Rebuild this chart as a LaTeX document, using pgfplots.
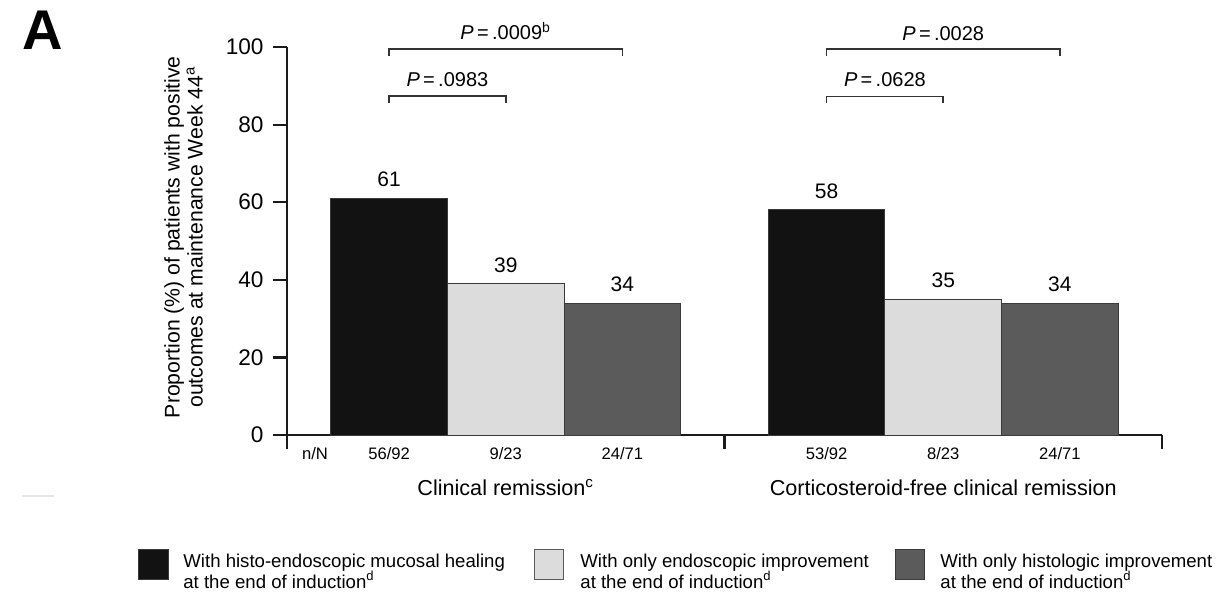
\documentclass[border=0pt]{standalone}
\usepackage{fontspec}
\setmainfont{Liberation Sans}
\usepackage{pgfplots}
\usepackage{pgfplotstable}
\pgfplotsset{compat=1.18}

\definecolor{barblack}{HTML}{121212}
\definecolor{barlight}{HTML}{DCDCDC}
\definecolor{bardark}{HTML}{5B5B5B}
\definecolor{baredge}{HTML}{3A3A3A}
\definecolor{axisline}{HTML}{1A1A1A}

% Proportion (%) of patients with positive outcomes at maintenance Week 44
\pgfplotstableread{
x      y
0.875  61
4.625  58
}\histoendo
\pgfplotstableread{
x      y
1.875  39
5.625  35
}\endoonly
\pgfplotstableread{
x      y
2.875  34
6.625  34
}\histoonly
% n/N under each bar
\pgfplotstableread{
x      nN
0.24   n/N
0.875  56/92
1.875  9/23
2.875  24/71
4.625  53/92
5.625  8/23
6.625  24/71
}\nNtable

\newcommand{\fs}[1]{\fontsize{#1}{#1}\selectfont}

\begin{document}
\begin{tikzpicture}
\path[use as bounding box] (0,0) rectangle (614.5pt,-296.5pt);

\begin{axis}[
  at={(143.5pt,-217.5pt)}, anchor=south west,
  scale only axis, width=437.5pt, height=194pt,
  xmin=0, xmax=7.5, ymin=0, ymax=100,
  axis lines=left,
  axis line style={-, line width=1.1pt, color=axisline},
  xtick={0,3.75,7.5}, xticklabels={,,},
  ytick={0,20,...,100},
  tick align=outside, major tick length=7.2pt,
  tick style={line width=1.1pt, color=axisline},
  /pgf/number format/assume math mode=true,
  yticklabel style={font=\fs{11.3}, xshift=-1pt},
  clip=false,
  ylabel={Proportion (\%) of patients with positive\\outcomes at maintenance Week 44\textsuperscript{a}},
  ylabel style={at={(axis description cs:-0.1183,0.51)}, anchor=center,
    align=center, font=\fontsize{10.6}{11.5}\selectfont},
  every node near coord/.append style={font=\fs{10.5}, yshift=2pt},
]

\addplot[ybar, bar width=1, bar shift=0, fill=barblack, draw=baredge, line width=0.5pt,
  nodes near coords] table[x=x, y=y] {\histoendo};
\addplot[ybar, bar width=1, bar shift=0, fill=barlight, draw=baredge, line width=0.5pt,
  nodes near coords] table[x=x, y=y] {\endoonly};
\addplot[ybar, bar width=1, bar shift=0, fill=bardark, draw=baredge, line width=0.5pt,
  nodes near coords] table[x=x, y=y] {\histoonly};

% n/N row
\addplot[draw=none, nodes near coords, point meta=explicit symbolic,
  every node near coord/.append style={anchor=center, yshift=-11.5pt, font=\fs{8.3}}]
  table[x=x, y expr=0, meta=nN] {\nNtable};

% group titles
\node[anchor=base, font=\fs{10.8}, yshift=-30pt] at (axis cs:1.875,0) {Clinical remission\textsuperscript{c}};
\node[anchor=base, font=\fs{10.8}, yshift=-30pt] at (axis cs:5.625,0) {Corticosteroid-free clinical remission};

% significance brackets
\begin{scope}[line width=0.8pt, color=black!80]
\draw (axis cs:0.875,97.7) |- (axis cs:2.875,99.5) -- (axis cs:2.875,97.7);
\draw (axis cs:0.875,85.6) |- (axis cs:1.875,87.4) -- (axis cs:1.875,85.6);
\draw (axis cs:4.625,97.7) |- (axis cs:6.625,99.5) -- (axis cs:6.625,97.7);
\draw (axis cs:4.625,85.6) |- (axis cs:5.625,87.2) -- (axis cs:5.625,85.6);
\end{scope}
\node[anchor=base, font=\fs{10}] at (axis cs:1.875,101.9) {\textit{P}\,=\,.0009\textsuperscript{b}};
\node[anchor=base, font=\fs{10}] at (axis cs:1.375,89.9) {\textit{P}\,=\,.0983};
\node[anchor=base, font=\fs{10}] at (axis cs:5.625,101.8) {\textit{P}\,=\,.0028};
\node[anchor=base, font=\fs{10}] at (axis cs:5.125,89.7) {\textit{P}\,=\,.0628};
\end{axis}

% panel letter
\node[anchor=base west, inner sep=0pt, font=\bfseries\fs{28}] at (11pt,-25pt) {A};
\draw[black!10, line width=0.8pt] (11pt,-248pt) -- (27pt,-248pt);

% legend
\filldraw[fill=barblack, draw=baredge, line width=0.5pt] (69pt,-274.5pt) rectangle (84pt,-289.5pt);
\filldraw[fill=barlight, draw=black!65, line width=0.5pt] (267pt,-274.5pt) rectangle (281.5pt,-289.5pt);
\filldraw[fill=bardark, draw=baredge, line width=0.5pt] (447.5pt,-274.5pt) rectangle (462pt,-289.5pt);

\begin{scope}[every node/.style={anchor=base west, inner sep=0pt, font=\fs{9.3}}]
\node at (91.5pt,-283.5pt) {With histo-endoscopic mucosal healing};
\node at (91.5pt,-294pt) {at the end of induction\textsuperscript{d}};
\node at (290pt,-283.5pt) {With only endoscopic improvement};
\node at (290pt,-294pt) {at the end of induction\textsuperscript{d}};
\node at (470pt,-283.5pt) {With only histologic improvement};
\node at (470pt,-294pt) {at the end of induction\textsuperscript{d}};
\end{scope}
\end{tikzpicture}
\end{document}
